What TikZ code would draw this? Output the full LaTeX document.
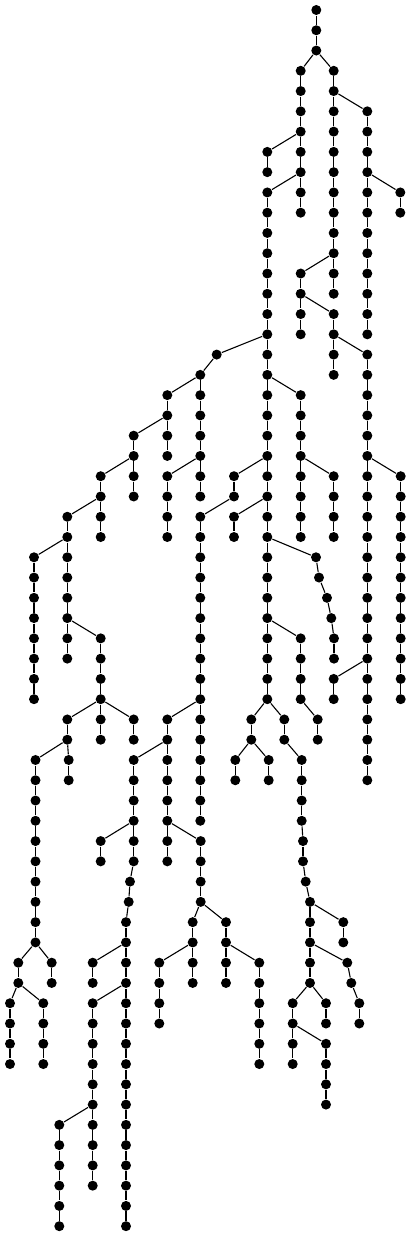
\documentclass[tikz,border=0pt]{standalone}
\usepackage{tikz}

\begin{document}
\begin{tikzpicture}[x=1pt,y=-20.27pt,line width=1.1pt,
                    leaf/.style={circle,fill,inner sep=0pt,minimum size=10pt}]
  \useasboundingbox (0,-0.4933) rectangle (411,60.484);

  \foreach \l in {0,1,2}
    \node[leaf] (r-\l) at (316.3,\l) {};
  \path (r-0) edge (r-1)
        (r-1) edge (r-2);

  \foreach \ch/\x/\first/\last/\up in {
      a/300.7/3/10/r-2,     b/333.7/3/14/r-2,     c/367.3/5/16/b-4,
      d/267.3/7/8/a-6,      e/400.3/9/10/c-8,     f/267.3/9/34/a-8,
      g/300.7/13/16/b-12,   h/333.7/15/18/g-14,   i/367.3/17/38/h-16,
      j/216.7/17/17/f-16,   k/200.3/18/24/j-17,   l/167.3/19/22/k-18,
      m/133.7/21/24/l-20,   n/100.7/23/26/m-22,   o/167.3/23/26/k-22,
      p/67.3/25/32/n-24,    q/34/27/34/p-26,      s/100.7/31/34/p-30,
      t/300.7/19/26/f-18,   u/333.7/23/26/t-22,   v/400.7/23/34/i-22,
      w/234/23/24/f-22,     x/200.3/25/40/w-24,   y/234/25/26/f-24,
      z1/316/27/27/f-26,    z2/319/28/28/z1-27,   z3/327/29/29/z2-28,
      z4/331.3/30/30/z3-29, z5/334/31/32/z4-30,
      aa/300.7/31/34/f-30,  ab/317.7/35/36/aa-34, ac/333.7/33/34/i-32,
      ad/251.3/35/36/f-34,  ae/284.3/35/36/f-34,
      af/235.3/37/38/ad-36, ag/268.7/37/38/ad-36, ah/301.7/37/40/ae-36,
      ai1/303/41/42/ah-40,  ai2/305.7/43/43/ai1-42, aj/310/44/48/ai2-43,
      ak/343.3/45/46/aj-44, al1/347.3/47/47/aj-46, al2/351.3/48/48/al1-47,
      al3/359.3/49/50/al2-48,
      am/292.7/49/52/aj-48, an/326/49/50/aj-48,   ao/326/51/54/am-50,
      ap/67.3/35/36/s-34,   aq/100.7/35/36/s-34,  ar/133.7/35/36/s-34,
      as/35.5/37/46/ap-36,  at/68.7/37/38/ap-36,
      au/18.3/47/48/as-46,  av/51.7/47/48/as-46,
      aw/10/49/52/au-48,    ax/43.3/49/52/au-48,
      ay/167.3/35/36/x-34,  az/133.7/37/42/ay-36, ba/167.3/37/42/ay-36,
      bb/100.7/41/42/az-40, bc1/130/43/43/az-42,  bc2/128.7/44/44/bc1-43,
      bd/126/45/60/bc2-44,  be/92.7/47/48/bd-46,  bf/92.7/49/58/bd-48,
      bg/59.3/55/60/bf-54,
      bh/200.7/41/44/ba-40, bi/192.7/45/48/bh-44, bj/226/45/48/bh-44,
      bk/159.3/47/50/bi-46, bl/259.3/47/52/bj-46}
  {
    \foreach \l in {\first,...,\last} {
      \node[leaf] (\ch-\l) at (\x,\l) {};
      \ifnum\l>\first\relax
        \pgfmathtruncatemacro\k{\l-1}
        \path (\ch-\k) edge (\ch-\l);
      \fi
    }
    \path (\up) edge (\ch-\first);
  }
\end{tikzpicture}
\end{document}
